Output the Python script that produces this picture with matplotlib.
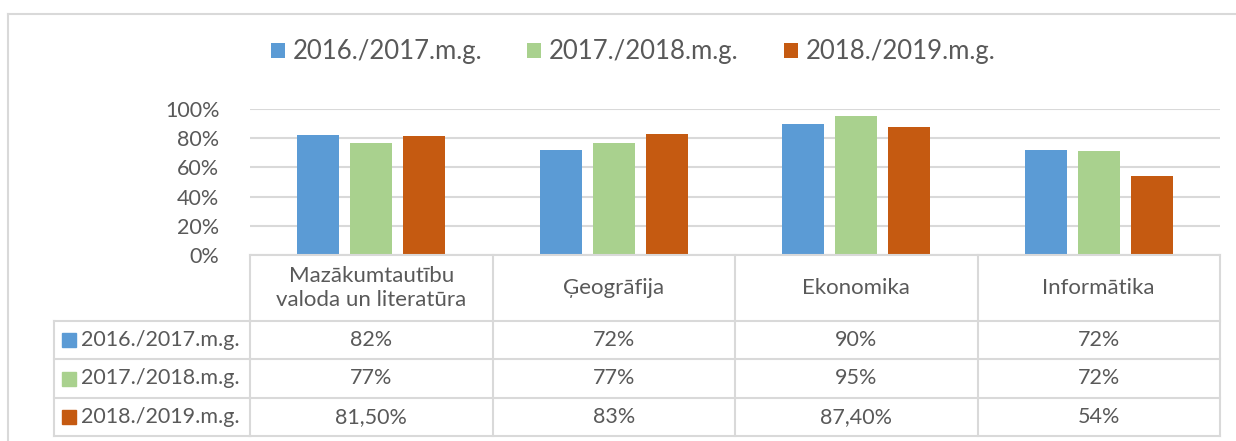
import numpy as np
import matplotlib.pyplot as plt
from matplotlib.patches import Rectangle
from matplotlib.lines import Line2D
import matplotlib.transforms as mtransforms

plt.rcParams['font.family'] = ['Lato', 'DejaVu Sans']

categories = ['Mazākumtautību\nvaloda un literatūra', 'Ģeogrāfija', 'Ekonomika', 'Informātika']
series = ['2016./2017.m.g.', '2017./2018.m.g.', '2018./2019.m.g.']
values = [
    [0.82, 0.72, 0.90, 0.72],
    [0.77, 0.77, 0.95, 0.715],
    [0.815, 0.83, 0.874, 0.54],
]
table_text = [
    ['82%', '72%', '90%', '72%'],
    ['77%', '77%', '95%', '72%'],
    ['81,50%', '83%', '87,40%', '54%'],
]
colors = ['#5B9BD5', '#A9D18E', '#C55A11']
yticks = [0, 0.2, 0.4, 0.6, 0.8, 1.0]

W, H = 1236, 441
def fx(x): return x / W
def fy(y): return 1 - y / H

text_col = '#595959'
line_col = '#D9D9D9'

fig = plt.figure(figsize=(W / 100, H / 100), dpi=100)
ax = fig.add_axes([fx(250), fy(255), fx(1220) - fx(250), fy(109) - fy(255)])

x = np.arange(len(categories))
bw = 0.173
step = 0.218
bars = []
for i, s in enumerate(series):
    b = ax.bar(x + (i - 1) * step, values[i], width=bw, color=colors[i], label=s, zorder=3)
    bars.append(b)

ax.set_xlim(-0.5, len(categories) - 0.5)
ax.set_ylim(0, 1.0)
ax.set_yticks(yticks)
ax.set_yticklabels(['%d%%' % round(t * 100) for t in yticks], color=text_col, fontsize=15.5)
ax.tick_params(axis='y', length=0, pad=22)
ax.set_xticks([])
ax.grid(axis='y', color=line_col, linewidth=1.5, zorder=0)
for sp in ax.spines.values():
    sp.set_visible(False)

# legend
fig.legend(handles=bars, labels=series, loc='center', bbox_to_anchor=(fx(633), fy(52)),
           ncol=3, frameon=False, fontsize=18.5, handlelength=0.55, handleheight=0.55,
           handletextpad=0.3, columnspacing=1.75, labelcolor=text_col)

# chart border
fig.add_artist(Line2D([fx(8), 1], [fy(14), fy(14)], color=line_col, lw=1.5))
fig.add_artist(Line2D([fx(8), fx(8)], [fy(14), 0], color=line_col, lw=1.5))

# data table
trans = mtransforms.blended_transform_factory(ax.transData, fig.transFigure)
row_y = [321, 359, 398, 436]
for xb in np.arange(-0.5, len(categories), 1.0):
    fig.add_artist(Line2D([xb, xb], [fy(255), fy(436)], transform=trans, color=line_col, lw=1.5))
fig.add_artist(Line2D([-0.5, len(categories) - 0.5], [fy(255), fy(255)], transform=trans, color=line_col, lw=1.5))
for ry in row_y:
    fig.add_artist(Line2D([fx(54), fx(250)], [fy(ry), fy(ry)], color=line_col, lw=1.5))
    fig.add_artist(Line2D([-0.5, len(categories) - 0.5], [fy(ry), fy(ry)], transform=trans, color=line_col, lw=1.5))
fig.add_artist(Line2D([fx(54), fx(54)], [fy(321), fy(436)], color=line_col, lw=1.5))

for j, c in enumerate(categories):
    fig.text(j, fy(288), c, transform=trans, ha='center', va='center', fontsize=16,
             color=text_col, linespacing=1.2)

for i, s in enumerate(series):
    yc = (row_y[i] + row_y[i + 1]) / 2
    fig.add_artist(Rectangle((fx(62), fy(yc + 7)), fx(14), fy(yc - 7) - fy(yc + 7),
                             color=colors[i], transform=fig.transFigure))
    fig.text(fx(81), fy(yc), s, ha='left', va='center', fontsize=15.5, color=text_col)
    for j in range(len(categories)):
        fig.text(j, fy(yc), table_text[i][j], transform=trans, ha='center', va='center',
                 fontsize=15.5, color=text_col)

fig.savefig('out.png', dpi=100)
